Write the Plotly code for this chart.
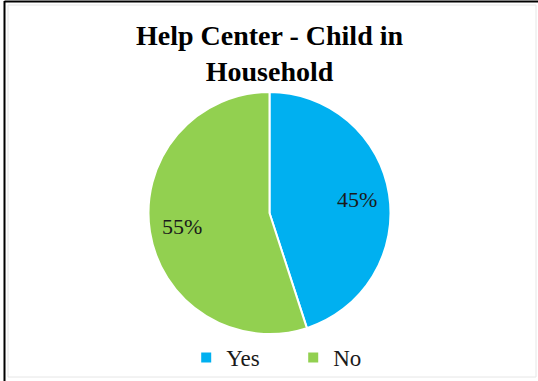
import math
import plotly.graph_objects as go

labels = ["Yes", "No"]
values = [45, 55]
colors = ["#00B0F0", "#92D050"]
title_text = "Help Center - Child in<br>Household"

W, H = 538, 381
serif = "Liberation Serif"

# pie placement in pixels (figure has no margins, so paper == pixels)
pie_left, pie_right, pie_top, pie_bottom = 146, 393, 92, 334
cx = (pie_left + pie_right) / 2
cy = (pie_top + pie_bottom) / 2
radius = (pie_right - pie_left) / 2

fig = go.Figure(
    go.Pie(
        labels=labels,
        values=values,
        sort=False,
        direction="clockwise",
        rotation=0,
        marker=dict(colors=colors, line=dict(color="white", width=2)),
        textinfo="none",
        domain=dict(x=[pie_left / W, pie_right / W],
                    y=[1 - pie_bottom / H, 1 - pie_top / H]),
        hoverinfo="label+percent",
    )
)

# percentage labels placed along each slice's mid-angle
total = sum(values)
annotations = []
start = 0.0
for v in values:
    mid = (start + v / 2) / total * 2 * math.pi
    start += v
    r = radius * 0.72
    px = cx + r * math.sin(mid)
    py = cy - r * math.cos(mid)
    annotations.append(dict(
        text=f"{round(v / total * 100)}%",
        x=px / W, y=1 - py / H, xref="paper", yref="paper",
        showarrow=False, xanchor="center", yanchor="middle",
        font=dict(family=serif, size=22, color="#1a1a1a"),
    ))

annotations.append(dict(
    text=f"<b>{title_text}</b>",
    x=0.5, y=1 - 18 / H, xref="paper", yref="paper",
    xanchor="center", yanchor="top", showarrow=False,
    font=dict(family=serif, size=28, color="#000000"),
))

fig.update_layout(
    width=W,
    height=H,
    margin=dict(l=0, r=0, t=0, b=0),
    paper_bgcolor="white",
    plot_bgcolor="white",
    annotations=annotations,
    legend=dict(
        orientation="h",
        x=0.545,
        xanchor="center",
        y=1 - 336 / H,
        yanchor="top",
        bgcolor="rgba(0,0,0,0)",
        font=dict(family=serif, size=23, color="#1a1a1a"),
        itemwidth=30,
        entrywidth=62,
        entrywidthmode="pixels",
        traceorder="normal",
    ),
    shapes=[
        dict(type="line", xref="paper", yref="paper", x0=4.5 / W, x1=4.5 / W,
             y0=0, y1=1 - 1 / H, line=dict(color="black", width=2)),
        dict(type="line", xref="paper", yref="paper", x0=4.5 / W, x1=1,
             y0=1 - 1.5 / H, y1=1 - 1.5 / H, line=dict(color="black", width=2)),
        dict(type="rect", xref="paper", yref="paper", x0=8 / W, x1=536 / W,
             y0=1 - 377 / H, y1=1 - 5 / H, line=dict(color="#e6e6e6", width=1)),
    ],
)

fig.write_html("out.html")
